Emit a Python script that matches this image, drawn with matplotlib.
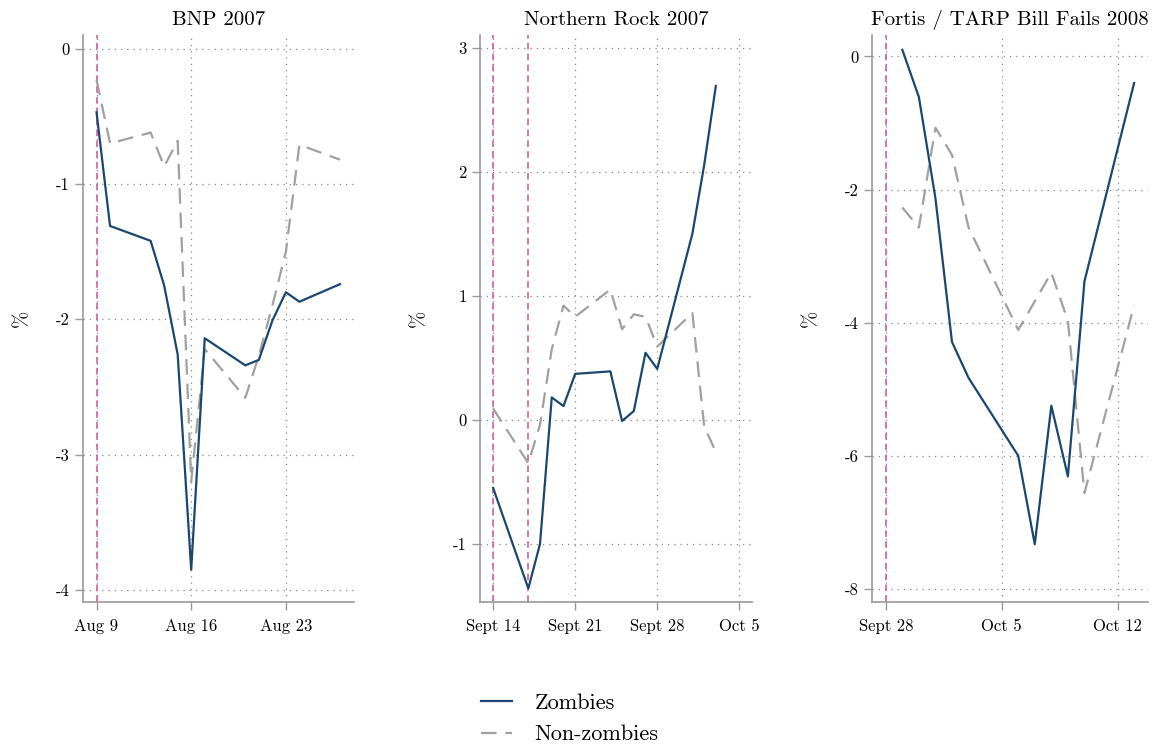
import matplotlib

matplotlib.use("Agg")
import matplotlib.pyplot as plt
from matplotlib.lines import Line2D
import pandas as pd

# BNP 2007
bnp_dates = ["2007-08-09", "2007-08-10", "2007-08-13", "2007-08-14", "2007-08-15",
             "2007-08-16", "2007-08-17", "2007-08-20", "2007-08-21", "2007-08-22",
             "2007-08-23", "2007-08-24", "2007-08-27"]
bnp_zombies = [-0.47, -1.31, -1.42, -1.75, -2.26, -3.85, -2.14, -2.34, -2.30, -2.01,
               -1.80, -1.87, -1.74]
bnp_nonzombies = [-0.23, -0.70, -0.62, -0.87, -0.68, -3.20, -2.22, -2.58, -2.27, -1.90,
                  -1.50, -0.71, -0.82]

# Northern Rock 2007
nr_dates = ["2007-09-14", "2007-09-17", "2007-09-18", "2007-09-19", "2007-09-20",
            "2007-09-21", "2007-09-24", "2007-09-25", "2007-09-26", "2007-09-27",
            "2007-09-28", "2007-10-01", "2007-10-02", "2007-10-03"]
nr_zombies = [-0.55, -1.36, -1.00, 0.18, 0.11, 0.37, 0.39, -0.01, 0.07, 0.54,
              0.41, 1.50, 2.05, 2.69]
nr_nonzombies = [0.09, -0.35, -0.04, 0.57, 0.92, 0.83, 1.05, 0.73, 0.85, 0.83,
                 0.59, 0.86, -0.05, -0.26]

# Fortis / TARP 2008
ft_dates = ["2008-09-29", "2008-09-30", "2008-10-01", "2008-10-02", "2008-10-03",
            "2008-10-06", "2008-10-07", "2008-10-08", "2008-10-09", "2008-10-10",
            "2008-10-13"]
ft_zombies = [0.10, -0.61, -2.13, -4.29, -4.83, -6.00, -7.33, -5.25, -6.31, -3.38, -0.40]
ft_nonzombies = [-2.27, -2.57, -1.07, -1.48, -2.57, -4.11, -3.68, -3.25, -3.97, -6.56, -3.74]

panels = [
    dict(title="BNP 2007", dates=bnp_dates, z=bnp_zombies, nz=bnp_nonzombies,
         events=["2007-08-09"],
         xticks=["2007-08-09", "2007-08-16", "2007-08-23"],
         xlabels=["Aug 9", "Aug 16", "Aug 23"],
         yticks=[0, -1, -2, -3, -4],
         xlim=("2007-08-08", "2007-08-28"), ylim=(-4.09, 0.1),
         rect=[0.0718, 0.195, 0.2340, 0.758]),
    dict(title="Northern Rock 2007", dates=nr_dates, z=nr_zombies, nz=nr_nonzombies,
         events=["2007-09-14", "2007-09-17"],
         xticks=["2007-09-14", "2007-09-21", "2007-09-28", "2007-10-05"],
         xlabels=["Sept 14", "Sept 21", "Sept 28", "Oct 5"],
         yticks=[3, 2, 1, 0, -1],
         xlim=("2007-09-12 21:00", "2007-10-06 02:00"), ylim=(-1.47, 3.1),
         rect=[0.4152, 0.195, 0.2353, 0.758]),
    dict(title="Fortis / TARP Bill Fails 2008", dates=ft_dates, z=ft_zombies, nz=ft_nonzombies,
         events=["2008-09-28"],
         xticks=["2008-09-28", "2008-10-05", "2008-10-12"],
         xlabels=["Sept 28", "Oct 5", "Oct 12"],
         yticks=[0, -2, -4, -6, -8],
         xlim=("2008-09-27 04:00", "2008-10-13 20:00"), ylim=(-8.2, 0.32),
         rect=[0.7543, 0.195, 0.2387, 0.758]),
]

plt.rcParams["font.family"] = ["cmr10", "DejaVu Serif"]
plt.rcParams["axes.unicode_minus"] = False
plt.rcParams["axes.formatter.use_mathtext"] = True

navy = "#1a476f"
grey = "#a0a0a0"
pink = "#d0629f"
spine = "#999999"

fig = plt.figure(figsize=(11.56, 7.48), dpi=100)

for p in panels:
    ax = fig.add_axes(p["rect"])
    d = pd.to_datetime(p["dates"])
    ax.plot(d, p["nz"], color=grey, lw=1.6, dashes=(7, 4), zorder=3)
    ax.plot(d, p["z"], color=navy, lw=1.6, zorder=4)
    for e in p["events"]:
        ax.axvline(pd.Timestamp(e), color=pink, lw=1.2, dashes=(4, 2.5), zorder=2)
    ax.set_xticks(pd.to_datetime(p["xticks"]))
    ax.set_xticklabels(p["xlabels"])
    ax.set_yticks(p["yticks"])
    ax.set_yticklabels([str(v) for v in p["yticks"]])
    ax.set_xlim(pd.Timestamp(p["xlim"][0]), pd.Timestamp(p["xlim"][1]))
    ax.set_ylim(*p["ylim"])
    ax.grid(True, color="#888888", lw=0.9, linestyle=(0, (1, 4)), zorder=1)
    for s in ("top", "right"):
        ax.spines[s].set_visible(False)
    for s in ("left", "bottom"):
        ax.spines[s].set_color(spine)
        ax.spines[s].set_linewidth(1.2)
    ax.tick_params(axis="both", colors=spine, labelcolor="black", labelsize=12,
                   length=6, width=1.0)
    ax.tick_params(axis="x", pad=6)
    ax.set_ylabel("%", fontsize=15, labelpad=18)
    ax.set_title(p["title"], fontsize=15, pad=7)

handles = [Line2D([], [], color=navy, lw=1.6),
           Line2D([], [], color=grey, lw=1.6, dashes=(7, 4))]
fig.legend(handles, ["Zombies", "Non-zombies"], loc="lower center",
           bbox_to_anchor=(0.493, -0.022), ncol=1, frameon=False, fontsize=16,
           handlelength=1.4, handletextpad=1.0, labelspacing=0.55)

fig.savefig("out.png", dpi=100)
